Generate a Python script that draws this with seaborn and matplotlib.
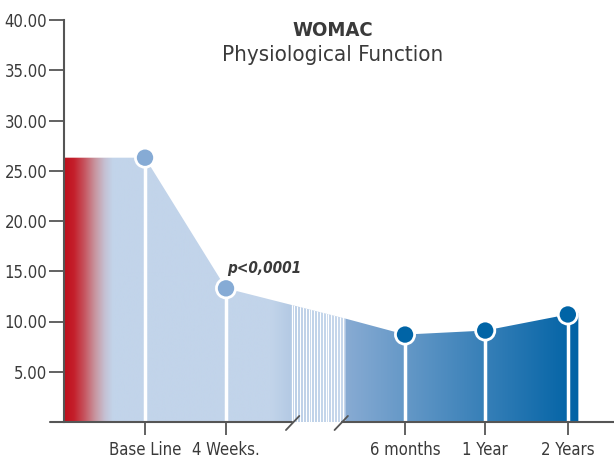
import numpy as np
import matplotlib
matplotlib.use("Agg")
import matplotlib.pyplot as plt
from matplotlib.colors import LinearSegmentedColormap
import seaborn as sns
import pandas as pd

time_labels = ["Base Line", "4 Weeks.", "6 months", "1 Year", "2 Years"]
time_pos = [1.0, 2.0, 4.21, 5.2, 6.22]
womac_scores = [26.3, 13.3, 8.7, 9.1, 10.7]

# outline of the shaded band (start, points, axis break, tail)
band_x = [0.0, 1.0, 2.0, 3.47, 4.21, 5.2, 6.22, 6.35]
band_y = [26.3, 26.3, 13.3, 10.3, 8.7, 9.1, 10.7, 10.85]

break_start, break_end = 2.79, 3.47
y_ticks = [5, 10, 15, 20, 25, 30, 35, 40]

sns.set_style("white")
plt.rcParams['font.family'] = ['DejaVu Sans']
plt.rcParams['font.stretch'] = 'condensed'
txt = '#3a3a3a'
axc = '#555555'

fig = plt.figure(figsize=(6.14, 4.62), dpi=100)
ax = fig.add_axes([50 / 614, 40 / 462, 564 / 614, 402 / 462])

# gradient band clipped to the area under the curve
poly = ax.fill_between(band_x, 0, band_y, facecolor='none', edgecolor='none')
clip = poly.get_paths()[0]
xmax = band_x[-1]
stops = [(0.0, '#bf0f1c'), (0.12, '#c41f2b'), (0.25, '#c65560'), (0.38, '#c8959f'),
         (0.5, '#c5c0d2'), (0.6, '#c2d4ea'),
         (2.55, '#c2d4ea'), (break_start, '#b4cae4'), (break_end, '#c0d3ea'),
         (break_end, '#88abd3'), (xmax, '#0062a5')]
cmap = LinearSegmentedColormap.from_list('band', [(p / xmax, c) for p, c in stops], N=1024)
grad = np.linspace(0, 1, 1024).reshape(1, -1)
im = ax.imshow(grad, extent=[0, xmax, 0, 30], aspect='auto', cmap=cmap, zorder=1)
im.set_clip_path(clip, ax.transData)

# white stripes in the axis break
stripe_x = np.linspace(break_start + 0.02, break_end - 0.03, 19)
st = ax.vlines(stripe_x, 0, 30, color='white', lw=0.9, zorder=2)
st.set_clip_path(clip, ax.transData)

# drop lines and points
ax.vlines(time_pos, 0, womac_scores, color='white', lw=2.5, zorder=3)
df = pd.DataFrame({'pos': time_pos, 'score': womac_scores,
                   'grp': ['early', 'early', 'late', 'late', 'late']})
sns.scatterplot(data=df, x='pos', y='score', hue='grp',
                palette={'early': '#86abd5', 'late': '#0064a6'},
                s=190, edgecolor='white', linewidth=2, legend=False, zorder=4, ax=ax)

ax.text(2.02, 15.3, 'p<0,0001', fontsize=11, fontweight='bold', fontstyle='italic',
        color=txt, ha='left', va='center')

fig.text(0.542, 0.935, 'WOMAC', fontsize=14.5, fontweight='bold', color=txt, ha='center', va='center')
fig.text(0.542, 0.881, 'Physiological Function', fontsize=16, color=txt, ha='center', va='center')

ax.set_xlim(-0.173, 6.79)
ax.set_ylim(0, 40)

# axes
for s in ['top', 'right', 'bottom']:
    ax.spines[s].set_visible(False)
ax.spines['left'].set_position(('data', 0))
ax.spines['left'].set_color(axc)
ax.spines['left'].set_linewidth(1.5)
ax.spines['left'].set_bounds(0, 40)

ax.plot([-0.173, 2.82], [0, 0], color=axc, lw=1.5, clip_on=False, zorder=5)
ax.plot([3.43, 6.79], [0, 0], color=axc, lw=1.5, clip_on=False, zorder=5)
for x0 in [2.74, 3.34]:
    ax.plot([x0, x0 + 0.165], [-0.8, 0.6], color=axc, lw=1.3, clip_on=False, zorder=5)

ax.set_yticks(y_ticks, [f"{v:.2f}" for v in y_ticks])
ax.set_xticks(time_pos, time_labels)
ax.tick_params(axis='y', direction='out', length=11, width=1.3, color=axc, labelcolor=txt,
               labelsize=12, pad=1, left=True)
ax.tick_params(axis='x', direction='out', length=9, width=1.3, color=axc, labelcolor=txt,
               labelsize=12, pad=5, bottom=True)
ax.set_xlabel('')
ax.set_ylabel('')

fig.savefig('out.png', dpi=100)
